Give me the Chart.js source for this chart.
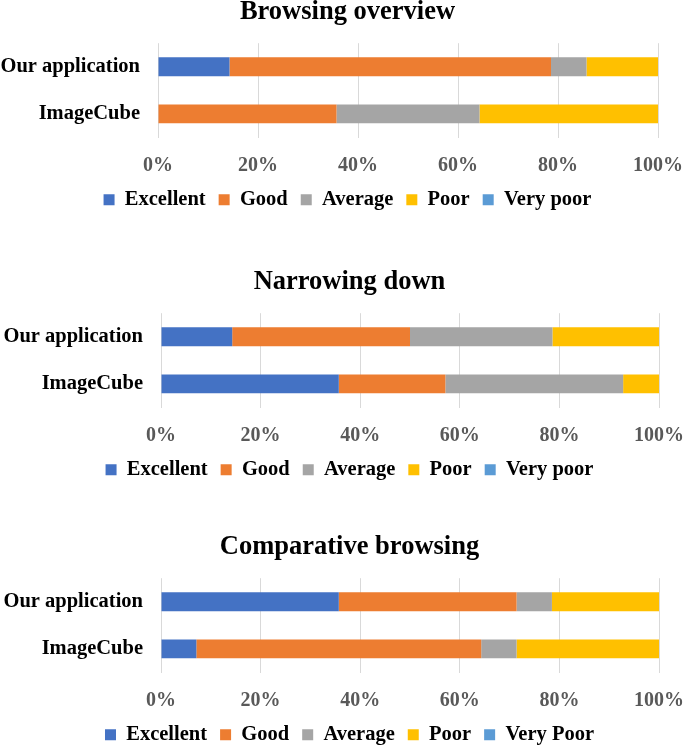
<!DOCTYPE html>
<html>
<head>
<meta charset="utf-8">
<script src="https://cdn.jsdelivr.net/npm/chart.js@4/dist/chart.umd.min.js"></script>
<style>
  html, body { margin: 0; padding: 0; background: #fff; overflow: hidden; }
  body { width: 685px; height: 746px; position: relative; }
  .box { position: absolute; left: 0; width: 685px; height: 224px; }
</style>
</head>
<body>
<div class="box" style="top:-4px"><canvas id="c1"></canvas></div>
<div class="box" style="top:266px"><canvas id="c2"></canvas></div>
<div class="box" style="top:531px"><canvas id="c3"></canvas></div>
<script>
// ---- data ----
const categories = ['Our application', 'ImageCube'];
const tickLabels = ['0%', '20%', '40%', '60%', '80%', '100%'];
const ratingNamesA = ['Excellent', 'Good', 'Average', 'Poor', 'Very poor'];
const ratingNamesB = ['Excellent', 'Good', 'Average', 'Poor', 'Very Poor'];
const titles = ['Browsing overview', 'Narrowing down', 'Comparative browsing'];

// Browsing overview (% of respondents)
const overviewExcellent = [14.3, 0];
const overviewGood      = [64.3, 35.7];
const overviewAverage   = [7.1, 28.6];
const overviewPoor      = [14.3, 35.7];
const overviewVeryPoor  = [0, 0];

// Narrowing down
const narrowExcellent = [14.3, 35.7];
const narrowGood      = [35.7, 21.4];
const narrowAverage   = [28.6, 35.7];
const narrowPoor      = [21.4, 7.2];
const narrowVeryPoor  = [0, 0];

// Comparative browsing
const compareExcellent = [35.7, 7.1];
const compareGood      = [35.7, 57.2];
const compareAverage   = [7.1, 7.1];
const comparePoor      = [21.5, 28.6];
const compareVeryPoor  = [0, 0];

// ---- styles ----
const colors = ['#4472C4', '#ED7D31', '#A5A5A5', '#FFC000', '#5B9BD5'];
const FONT = '"Liberation Serif", "Times New Roman", serif';
const TICK_SIZE = 20;

// let the category labels use the full left margin (no clipping at the padded edge)
const unclipYLabels = {
  id: 'unclipYLabels',
  afterLayout(chart) { chart.scales.y.left = 0; }
};

function makeChart(id, title, names, series, padLeft, axisLeft, axisRight) {
  const datasets = series.map((vals, i) => ({
    label: names[i],
    data: vals,
    backgroundColor: colors[i],
    borderWidth: 0,
    barPercentage: 0.4,
    categoryPercentage: 1.0
  }));
  return new Chart(document.getElementById(id), {
    type: 'bar',
    data: { labels: categories, datasets },
    plugins: [unclipYLabels],
    options: {
      indexAxis: 'y',
      responsive: true,
      maintainAspectRatio: false,
      animation: false,
      layout: { padding: { left: padLeft, right: 685 - axisRight, top: 0, bottom: 0 } },
      plugins: {
        title: {
          display: true,
          text: title,
          color: '#000',
          font: { family: FONT, size: 26.5, weight: 'bold' },
          padding: { top: 0, bottom: 15.4 }
        },
        legend: {
          display: true,
          position: 'bottom',
          labels: {
            color: '#000',
            font: { family: FONT, size: 20.5, weight: 'bold' },
            boxWidth: 11,
            boxHeight: 11,
            padding: 13
          }
        },
        tooltip: { enabled: false }
      },
      scales: {
        x: {
          stacked: true,
          min: 0,
          max: 100,
          ticks: {
            stepSize: 20,
            padding: 16,
            color: '#595959',
            font: { family: FONT, size: TICK_SIZE, weight: 'bold' },
            callback: (v, i) => tickLabels[i]
          },
          grid: { color: '#D9D9D9', lineWidth: 1, drawTicks: false },
          border: { display: false },
          afterFit: (scale) => {
            scale.height = TICK_SIZE * 1.2 + 15;
            scale.paddingLeft = 0;
            scale.paddingRight = 0;
          }
        },
        y: {
          stacked: true,
          ticks: {
            padding: 18,
            color: '#000',
            font: { family: FONT, size: 20.5, weight: 'bold' }
          },
          grid: { display: false, drawTicks: false },
          border: { display: false },
          afterFit: (scale) => { scale.width = axisLeft - padLeft; }
        }
      }
    }
  });
}

makeChart('c1', titles[0], ratingNamesA,
  [overviewExcellent, overviewGood, overviewAverage, overviewPoor, overviewVeryPoor], 37, 158, 658);
makeChart('c2', titles[1], ratingNamesA,
  [narrowExcellent, narrowGood, narrowAverage, narrowPoor, narrowVeryPoor], 40, 161, 659);
makeChart('c3', titles[2], ratingNamesB,
  [compareExcellent, compareGood, compareAverage, comparePoor, compareVeryPoor], 40, 161, 659);
</script>
</body>
</html>
